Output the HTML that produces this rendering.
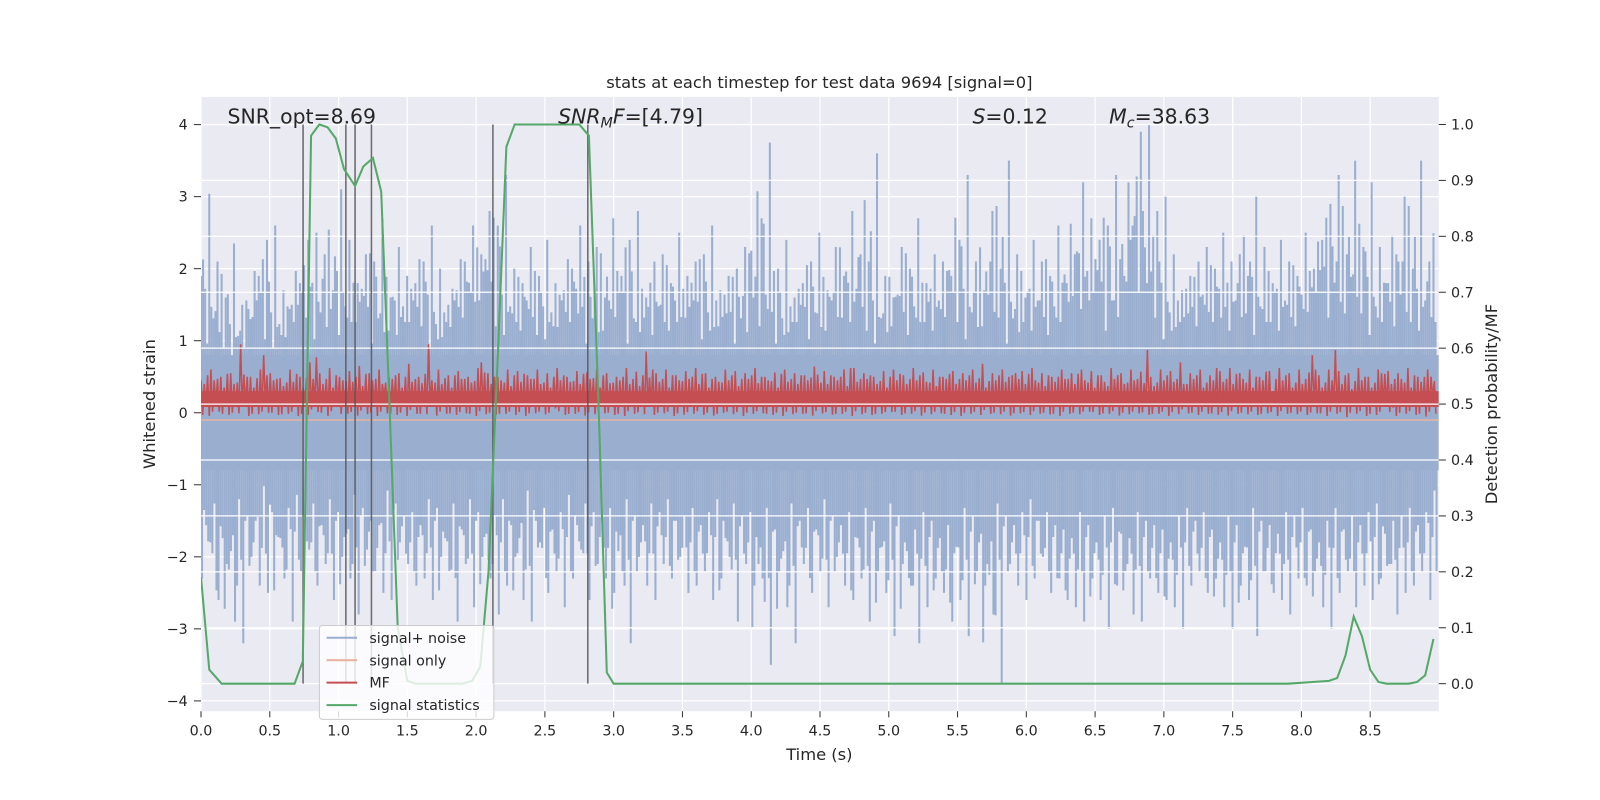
<!DOCTYPE html>
<html><head><meta charset="utf-8"><style>
html,body{margin:0;padding:0;background:#fff;overflow:hidden;width:100%;height:100%;}
svg{display:block;position:absolute;left:0;top:0;width:100vw;height:100vh;}
svg text{font-family:"DejaVu Sans","Liberation Sans",sans-serif;fill:#262626;}
</style></head><body>
<svg id="chart" viewBox="0 0 1600 800" preserveAspectRatio="none" xmlns="http://www.w3.org/2000/svg">
<defs><clipPath id="plotclip"><rect x="197" y="95" width="1213" height="602"/></clipPath></defs>
<g transform="scale(1.0204)">
<rect x="197" y="95" width="1213" height="602" fill="#eaeaf2"/>
<g id="vgrid"></g>
<g id="lgrid"></g>
<g id="blue" clip-path="url(#plotclip)"></g>
<g id="red" clip-path="url(#plotclip)"></g>
<g id="rgrid"></g>
<g id="vlines"></g>
<g id="green" clip-path="url(#plotclip)"></g>
<g id="axes"></g>
<text x="803" y="86" font-size="16" text-anchor="middle">stats at each timestep for test data 9694 [signal=0]</text>
<text x="223" y="121" font-size="20">SNR_opt=8.69</text>
<text x="547" y="121" font-size="20"><tspan font-style="italic">SNR</tspan><tspan font-style="italic" font-size="14" dy="4">M</tspan><tspan font-style="italic" dy="-4">F</tspan>=[4.79]</text>
<text x="953" y="121" font-size="20"><tspan font-style="italic">S</tspan>=0.12</text>
<text x="1087" y="121" font-size="20"><tspan font-style="italic">M</tspan><tspan font-style="italic" font-size="14" dy="4">c</tspan><tspan dy="-4">=38.63</tspan></text>
<text x="803" y="745" font-size="16" text-anchor="middle">Time (s)</text>
<text transform="translate(152,396) rotate(-90)" font-size="16" text-anchor="middle">Whitened strain</text>
<text transform="translate(1467,396) rotate(-90)" font-size="16" text-anchor="middle">Detection probability/MF</text>
<g>
<rect x="313" y="613" width="171" height="92" rx="3" fill="#ffffff" fill-opacity="0.8" stroke="#cccccc"/>
<line x1="320" y1="625" x2="350" y2="625" stroke="#9aaed0" stroke-width="2"/>
<text x="362" y="630" font-size="14">signal+ noise</text>
<line x1="320" y1="647" x2="350" y2="647" stroke="#eab3a0" stroke-width="2"/>
<text x="362" y="652" font-size="14">signal only</text>
<line x1="320" y1="669" x2="350" y2="669" stroke="#c44e52" stroke-width="2"/>
<text x="362" y="674" font-size="14">MF</text>
<line x1="320" y1="691" x2="350" y2="691" stroke="#55a868" stroke-width="2"/>
<text x="362" y="696" font-size="14">signal statistics</text>
</g>
</g>
</svg>
<script>
const xTicks=[0,0.5,1,1.5,2,2.5,3,3.5,4,4.5,5,5.5,6,6.5,7,7.5,8,8.5];
const leftTicks=[-4,-3,-2,-1,0,1,2,3,4];
const rightTicks=[0,0.1,0.2,0.3,0.4,0.5,0.6,0.7,0.8,0.9,1.0];
const markerTimes=[0.742,1.053,1.12,1.239,2.122,2.812];
const greenT=[0,0.06,0.15,0.25,0.68,0.74,0.8,0.86,0.92,0.98,1.04,1.12,1.18,1.25,1.31,1.37,1.43,1.5,1.56,1.9,1.97,2.03,2.09,2.16,2.22,2.28,2.75,2.82,2.89,2.95,3.0,7.9,8.2,8.26,8.32,8.38,8.44,8.5,8.56,8.62,8.78,8.84,8.9,8.96];
const greenP=[0.19,0.025,0.0,0.0,0.0,0.04,0.98,1.0,0.995,0.975,0.92,0.89,0.925,0.94,0.88,0.5,0.1,0.005,0.0,0.0,0.005,0.03,0.2,0.6,0.96,1.0,1.0,0.98,0.5,0.02,0.0,0.0,0.005,0.01,0.05,0.12,0.085,0.025,0.003,0.0,0.0,0.003,0.015,0.08];
const upper=[1.9,3.04,2.1,1.6,2.35,1.5,1.3,1.9,2.4,2.6,1.7,1.5,1.8,2.4,2.5,2.2,1.7,3.1,2.4,1.8,2.2,2.1,2.7,1.6,2.3,1.9,1.8,2.1,2.6,2.0,1.5,1.7,2.1,2.6,2.2,2.8,2.6,3.3,2.0,1.8,2.3,1.9,2.4,1.8,1.7,2.0,2.6,2.1,2.3,1.6,2.7,1.9,2.4,2.8,1.6,2.1,2.2,1.8,2.5,1.9,2.1,2.2,2.6,1.7,1.9,2.0,2.3,1.6,2.7,3.75,2.0,2.4,1.6,1.8,2.1,2.5,1.7,2.3,1.9,2.8,2.2,2.1,3.6,1.9,1.6,2.3,2.0,2.7,1.8,2.2,2.1,1.9,2.4,3.3,2.1,1.7,2.8,2.0,3.5,2.2,1.6,2.4,2.1,1.9,2.6,1.8,2.2,3.2,2.7,2.4,2.6,3.3,1.9,2.6,3.9,4.0,2.8,3.0,2.2,1.7,1.9,2.1,2.3,2.0,2.5,2.1,2.2,1.9,3.0,2.3,1.8,2.4,2.1,1.9,2.5,2.0,2.4,2.9,3.3,2.2,3.5,2.3,3.2,2.3,1.8,2.2,3.0,2.0,3.5,2.1,2.4];
const lower=[-2.3,-1.8,-2.6,-2.1,-2.9,-3.2,-2.0,-2.4,-2.5,-1.7,-2.3,-2.9,-2.2,-1.9,-2.4,-2.1,-2.6,-2.0,-2.3,-2.8,-1.9,-2.2,-2.5,-2.6,-1.8,-2.1,-2.4,-2.3,-2.6,-2.0,-2.2,-2.9,-2.1,-2.7,-2.0,-2.3,-2.8,-2.4,-2.0,-2.6,-2.9,-1.8,-2.5,-2.2,-2.7,-2.3,-1.9,-2.6,-2.1,-2.3,-2.5,-2.2,-3.2,-2.0,-2.4,-2.6,-2.1,-2.3,-2.0,-2.5,-2.4,-2.2,-2.6,-2.3,-2.0,-2.9,-2.1,-2.4,-2.3,-3.5,-2.2,-2.7,-3.2,-2.1,-2.5,-2.2,-2.7,-2.0,-2.4,-2.6,-2.3,-2.9,-2.2,-2.5,-3.1,-2.1,-2.4,-3.2,-2.7,-2.3,-2.5,-2.9,-2.6,-3.1,-2.2,-2.4,-2.8,-3.75,-2.1,-2.4,-2.6,-2.3,-2.0,-2.5,-2.3,-2.6,-2.7,-2.9,-2.3,-2.6,-3.0,-2.4,-2.2,-2.8,-2.9,-2.3,-2.5,-2.6,-2.7,-3.0,-2.4,-2.2,-2.5,-2.3,-2.7,-3.0,-2.4,-2.6,-3.1,-2.2,-2.5,-2.6,-2.8,-2.3,-2.4,-2.2,-2.7,-3.0,-2.5,-2.2,-2.7,-2.4,-2.6,-2.3,-2.1,-2.8,-2.5,-2.4,-2.2,-2.6];
const mf=[0.45,0.6,0.5,0.55,0.95,0.5,0.6,0.55,0.48,0.6,0.5,0.7,0.55,0.62,0.5,0.58,0.65,0.55,0.6,0.5,0.55,0.68,0.5,0.95,0.6,0.52,0.58,0.5,0.62,0.55,0.5,0.6,0.58,0.52,0.6,0.55,0.62,0.5,0.58,0.56,0.6,0.55,0.5,0.62,0.57,0.85,0.55,0.6,0.52,0.58,0.62,0.55,0.5,0.6,0.58,0.55,0.62,0.5,0.56,0.6,0.55,0.52,0.64,0.58,0.5,0.6,0.62,0.55,0.5,0.58,0.6,0.52,0.62,0.56,0.6,0.5,0.58,0.55,0.6,0.68,0.55,0.6,0.52,0.58,0.62,0.55,0.5,0.6,0.55,0.6,0.58,0.52,0.62,0.55,0.6,0.57,0.5,0.6,0.58,0.7,0.55,0.6,0.52,0.58,0.62,0.55,0.6,0.5,0.58,0.62,0.55,0.6,0.56,0.52,0.6,0.58,0.55,0.62,0.5,0.6,0.58,0.55,0.62,0.5,0.6];
const X=t=>197+t*134.8, L=v=>404.5-v*70.6, R=p=>670-p*548;
const NS='http://www.w3.org/2000/svg';
function mk(parent,tag,attrs){const e=document.createElementNS(NS,tag);for(const k in attrs)e.setAttribute(k,attrs[k]);document.getElementById(parent).appendChild(e);return e;}
xTicks.forEach(t=>{
 const g=mk('vgrid','line',{x1:X(t),x2:X(t),y1:95,y2:697,stroke:'#fff','stroke-width':1.2});
 
 
 mk('axes','line',{x1:X(t),x2:X(t),y1:697,y2:703,stroke:'#333','stroke-width':1});
 const tx=mk('axes','text',{x:X(t),y:721,'font-size':14,'text-anchor':'middle'});tx.textContent=t.toFixed(1);
 
 
});
leftTicks.forEach(v=>{
 const g=mk('lgrid','line',{x1:197,x2:1410,y1:L(v),y2:L(v),stroke:'#fff','stroke-width':1.2});
 
 
 mk('axes','line',{x1:190,x2:197,y1:L(v),y2:L(v),stroke:'#333','stroke-width':1});
 const tx=mk('axes','text',{x:184,y:L(v)+5,'font-size':14,'text-anchor':'end'});tx.textContent=v<0?'\u2212'+(-v):String(v);
 
 
});
const core=mk('blue','rect',{x:197,y:L(0.8),width:1213,height:L(-0.8)-L(0.8),fill:'#9aaed0'});


const n=Math.min(upper.length,lower.length), dt=8.99/n;
for(let i=0;i<n;i++){
 for(let k=0;k<4;k++){
  const t=(i+k/4)*dt;
  const vu=upper[(i+k)%n]*[1,0.7,0.82,0.6][k], vl=lower[(i+k)%n]*[1,0.75,0.6,0.85][k];
  const a=mk('blue','line',{x1:X(t),x2:X(t),y1:L(0),y2:L(vu),stroke:'#9aaed0','stroke-width':2});
  
  
  const b=mk('blue','line',{x1:X(t+dt/8),x2:X(t+dt/8),y1:L(0),y2:L(vl),stroke:'#9aaed0','stroke-width':2});
  
  
 }
}
const so=mk('blue','line',{x1:197,x2:1410,y1:L(-0.1),y2:L(-0.1),stroke:'#eab3a0','stroke-width':1.5});


const rb=mk('red','rect',{x:197,y:L(0.3),width:1213,height:L(0.08)-L(0.3),fill:'#c44e52'});


const m=mf.length, dm=8.99/m;
let pts=[];
for(let i=0;i<m;i++){
 for(let k=0;k<3;k++){
  const hi=mf[(i+k*17)%m]-[0,0.15,0.08][k];
  const lo=[0.0,0.1,-0.03][k]+(mf[(i+k*5)%m]-0.55)*0.3;
  pts.push(X((i+k/3)*dm)+','+L(hi));
  pts.push(X((i+k/3+1/6)*dm)+','+L(lo));
 }
}
const rl=mk('red','polyline',{points:pts.join(' '),fill:'none',stroke:'#c44e52','stroke-width':1.5});


rightTicks.forEach(p=>{
 const g=mk('rgrid','line',{x1:197,x2:1410,y1:R(p),y2:R(p),stroke:'#fff','stroke-width':1.2});
 
 
 mk('axes','line',{x1:1410,x2:1417,y1:R(p),y2:R(p),stroke:'#333','stroke-width':1});
 const tx=mk('axes','text',{x:1422,y:R(p)+5,'font-size':14});tx.textContent=p.toFixed(1);
 
 
});
markerTimes.forEach(t=>{
 const l=mk('vlines','line',{x1:X(t),x2:X(t),y1:R(1),y2:R(0),stroke:'#555','stroke-width':1.5,'stroke-opacity':0.85});
 
 
});
const gp=greenT.map((t,i)=>X(t)+','+R(greenP[i])).join(' ');
const gl=mk('green','polyline',{points:gp,fill:'none',stroke:'#55a868','stroke-width':2});


</script>
</body></html>
